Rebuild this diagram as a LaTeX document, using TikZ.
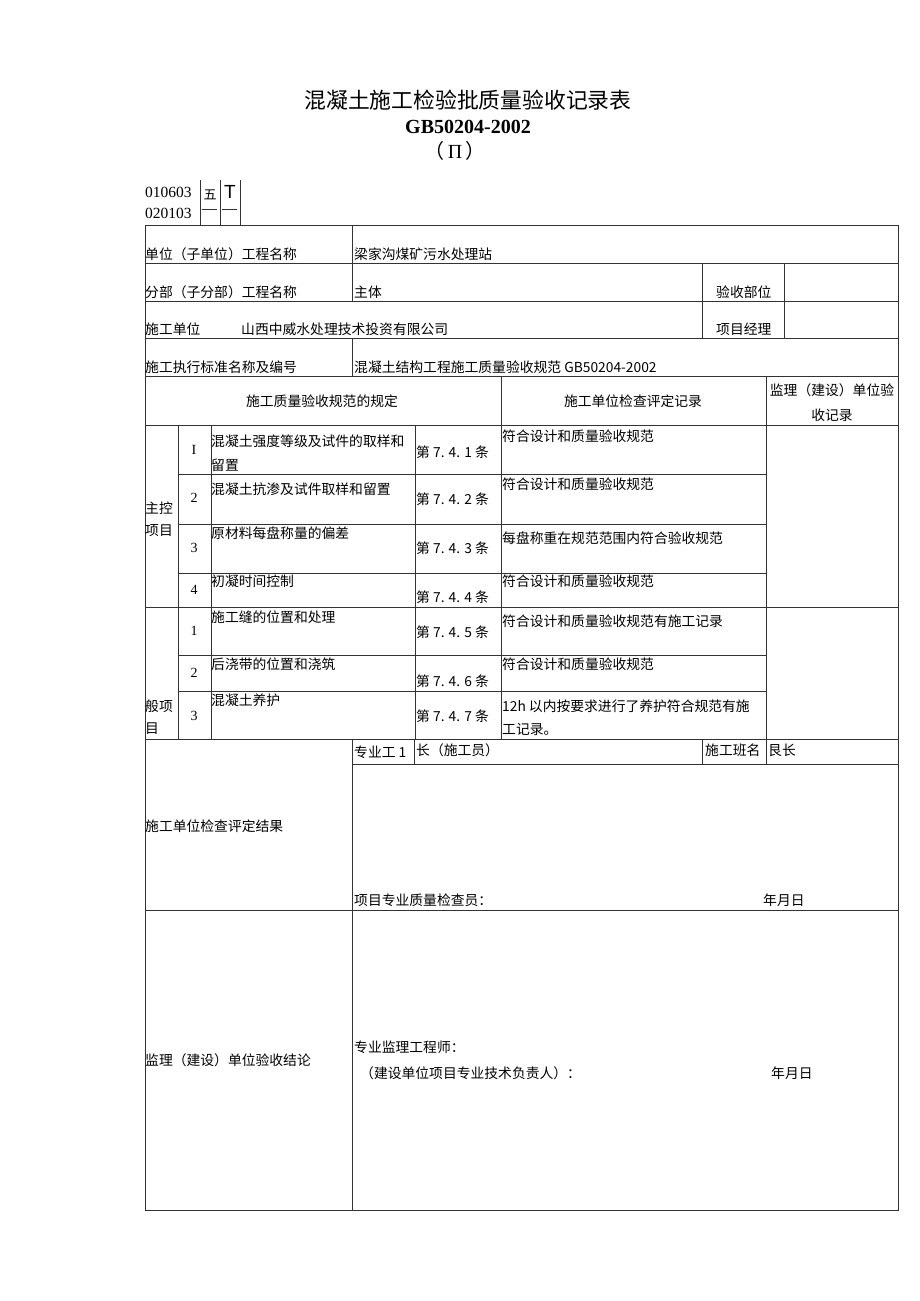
\documentclass[tikz,border=0pt]{standalone}
\usepackage{fontspec}
\setmainfont{Liberation Serif}
\newfontfamily\cjk{Noto Sans CJK SC}
\newfontfamily\sansT{Liberation Sans}
\begin{document}
\begin{tikzpicture}[x=1pt,y=-1pt,
  grid/.style={draw=black!80, line width=0.8pt},
  t/.style={anchor=west, inner sep=0pt, font=\cjk\fontsize{13.8}{16}\selectfont},
  tc/.style={anchor=center, inner sep=0pt, font=\cjk\fontsize{13.8}{16}\selectfont},
  num/.style={anchor=center, inner sep=0pt, font=\fontsize{14}{16}\selectfont}]
\useasboundingbox[fill=white] (0,0) rectangle (920,1301);

% ---------- titles ----------
\node[inner sep=0pt, font=\cjk\fontsize{21.8}{24}\selectfont] (title) at (468,100) {混凝土施工检验批质量验收记录表};
\node[inner sep=0pt, font=\bfseries\fontsize{20}{22}\selectfont] (std) at (468,127) {GB50204-2002};
\node[inner sep=0pt, font=\fontsize{20}{22}\selectfont] (part) at (455,151) {\cjk（\rmfamily\,Π\,\cjk）};

% ---------- code box ----------
\node[anchor=west, inner sep=0pt, font=\fontsize{15.5}{17}\selectfont] (c1) at (145,192) {010603};
\node[anchor=west, inner sep=0pt, font=\fontsize{15.5}{17}\selectfont] (c2) at (145,213) {020103};
\node[inner sep=0pt, font=\cjk\fontsize{13}{15}\selectfont] (c3) at (210,195) {五};
\node[inner sep=0pt, font=\sansT\fontsize{19}{20}\selectfont] (c4) at (230,192) {T};
\draw[grid] (200,180) -- (200,225) (220,180) -- (220,225) (240,180) -- (240,225);
\draw[grid] (202,209) -- (217,209) (222,209) -- (237,209);

% ---------- table grid ----------
\draw[grid] (145,225) rectangle (898,1210);
\foreach \y in {263,301,338,376,425,607,739,910} \draw[grid] (145,\y) -- (898,\y);
\foreach \y in {474,524,573,655,691} \draw[grid] (178,\y) -- (766,\y);
\draw[grid] (352,764) -- (898,764);
\draw[grid] (352,225) -- (352,301) (352,338) -- (352,376);
\draw[grid] (702,263) -- (702,338) (784,263) -- (784,338);
\draw[grid] (501,376) -- (501,739) (766,376) -- (766,739);
\draw[grid] (178,425) -- (178,739) (211,425) -- (211,739) (415,425) -- (415,739);
\draw[grid] (352,739) -- (352,1210) (414,739) -- (414,764) (702,739) -- (702,764) (766,739) -- (766,764);

% ---------- header rows ----------
\node[t] (r1a) at (145,254) {单位（子单位）工程名称};
\node[t] (r1b) at (354,254) {梁家沟煤矿污水处理站};
\node[t] (r2a) at (145,292) {分部（子分部）工程名称};
\node[t] (r2b) at (354,292) {主体};
\node[t] (r2c) at (716,292) {验收部位};
\node[t] (r3a) at (145,329) {施工单位};
\node[t] (r3b) at (241,329) {山西中威水处理技术投资有限公司};
\node[t] (r3c) at (716,329) {项目经理};
\node[t] (r4a) at (145,367) {施工执行标准名称及编号};
\node[t] (r4b) at (354,367) {混凝土结构工程施工质量验收规范 GB50204-2002};
\node[tc] (h1) at (322,401) {施工质量验收规范的规定};
\node[tc] (h2) at (633,401) {施工单位检查评定记录};
\node[tc] (h3) at (832,390) {监理（建设）单位验};
\node[tc] (h4) at (832,415) {收记录};

% ---------- main control items ----------
\node[t] (g1a) at (145,508) {主控};
\node[t] (g1b) at (145,531) {项目};
\node[num] (m1n) at (194,450) {I};
\node[t] (m1a) at (211,441) {混凝土强度等级及试件的取样和};
\node[t] (m1b) at (211,465) {留置};
\node[t] (m1c) at (416,452) {第 7. 4. 1 条};
\node[t] (m1d) at (502,436) {符合设计和质量验收规范};
\node[num] (m2n) at (194,498) {2};
\node[t] (m2a) at (211,489) {混凝土抗渗及试件取样和留置};
\node[t] (m2c) at (416,499) {第 7. 4. 2 条};
\node[t] (m2d) at (502,484) {符合设计和质量验收规范};
\node[num] (m3n) at (194,548) {3};
\node[t] (m3a) at (211,533) {原材料每盘称量的偏差};
\node[t] (m3c) at (416,548) {第 7. 4. 3 条};
\node[t] (m3d) at (502,538) {每盘称重在规范范围内符合验收规范};
\node[num] (m4n) at (194,590) {4};
\node[t] (m4a) at (211,581) {初凝时间控制};
\node[t] (m4c) at (416,597) {第 7. 4. 4 条};
\node[t] (m4d) at (502,581) {符合设计和质量验收规范};

% ---------- general items ----------
\node[t] (g2a) at (145,706) {般项};
\node[t] (g2b) at (145,729) {目};
\node[num] (n1n) at (194,631) {1};
\node[t] (n1a) at (211,617) {施工缝的位置和处理};
\node[t] (n1c) at (416,632) {第 7. 4. 5 条};
\node[t] (n1d) at (502,621) {符合设计和质量验收规范有施工记录};
\node[num] (n2n) at (194,673) {2};
\node[t] (n2a) at (211,664) {后浇带的位置和浇筑};
\node[t] (n2c) at (416,681) {第 7. 4. 6 条};
\node[t] (n2d) at (502,664) {符合设计和质量验收规范};
\node[num] (n3n) at (194,716) {3};
\node[t] (n3a) at (211,700) {混凝土养护};
\node[t] (n3c) at (416,716) {第 7. 4. 7 条};
\node[t] (n3d) at (502,706) {12h 以内按要求进行了养护符合规范有施};
\node[t] (n3e) at (502,729) {工记录。};

% ---------- bottom sections ----------
\node[t] (b1) at (354,752) {专业工 1};
\node[t] (b2) at (416,750) {长（施工员）};
\node[t] (b3) at (705,750) {施工班名};
\node[t] (b4) at (768,750) {艮长};
\node[t] (b5) at (145,826) {施工单位检查评定结果};
\node[t] (b6) at (354,900) {项目专业质量检查员：};
\node[t] (b7) at (763,900) {年月日};
\node[t] (s1) at (145,1060) {监理（建设）单位验收结论};
\node[t] (s2) at (354,1047) {专业监理工程师：};
\node[t] (s3) at (360,1073) {（建设单位项目专业技术负责人）：};
\node[t] (s4) at (771,1073) {年月日};
\end{tikzpicture}
\end{document}
